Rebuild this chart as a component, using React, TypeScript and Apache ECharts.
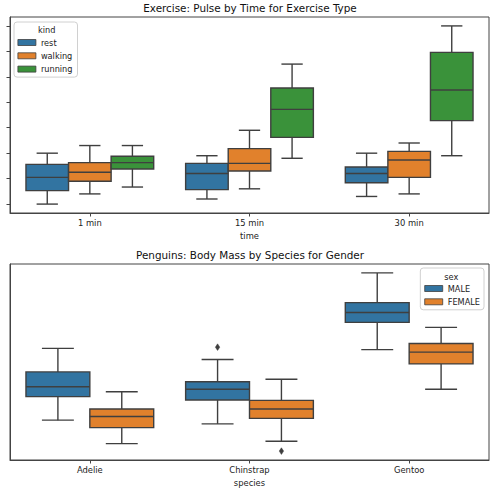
import React, { useEffect, useRef } from "react";
import * as echarts from "echarts";

// ---------- Data ----------
const exerciseTimes = ["1 min", "15 min", "30 min"];
const exerciseKinds = ["rest", "walking", "running"];
// [min, q1, median, q3, max] per time
const restPulse = [
  [80, 85.3, 90.5, 95.6, 100],
  [82, 85.7, 92, 96, 99],
  [83, 88.4, 92, 94.6, 100],
];
const walkingPulse = [
  [84, 89, 92.5, 96.3, 103],
  [86, 93, 96, 101.8, 109],
  [84, 90.5, 97.3, 100.7, 104],
];
const runningPulse = [
  [86.7, 93.8, 96.3, 98.8, 103],
  [98, 106.2, 117.2, 125.6, 135],
  [99, 112.8, 124.8, 139.6, 150],
];
const pulseTicks = [80, 90, 100, 110, 120, 130, 140, 150];

const penguinSpecies = ["Adelie", "Chinstrap", "Gentoo"];
const penguinSexes = ["MALE", "FEMALE"];
const maleMass = [
  [3325, 3800, 4000, 4300, 4775],
  [3250, 3731, 3950, 4100, 4550],
  [4750, 5300, 5500, 5700, 6300],
];
const femaleMass = [
  [2850, 3175, 3400, 3550, 3900],
  [2900, 3362, 3550, 3725, 4150],
  [3950, 4462, 4700, 4875, 5200],
];
// [species index, value]
const maleOutliers = [[1, 4800]];
const femaleOutliers = [[1, 2700]];

// ---------- Styles ----------
const FONT = "DejaVu Sans";
const EDGE = "#3f3f3f";
const SPINE = "#444";
const hueColors = ["#3274a1", "#e1812c", "#3a923a"];

function boxRenderer(idx: number, n: number) {
  return (params: any, api: any) => {
    const cat = api.value(0);
    const band = api.size([1, 0])[0];
    const w = (band * 0.8) / n;
    const cx = api.coord([cat, 0])[0] + (idx - (n - 1) / 2) * w;
    const y = (v: number) => api.coord([cat, v])[1];
    const yMin = y(api.value(1));
    const yQ1 = y(api.value(2));
    const yMed = y(api.value(3));
    const yQ3 = y(api.value(4));
    const yMax = y(api.value(5));
    const fill = api.visual("color");
    const ls = { stroke: EDGE, lineWidth: 1.4 };
    const capHalf = w / 4;
    return {
      type: "group",
      children: [
        { type: "line", shape: { x1: cx, y1: yQ3, x2: cx, y2: yMax }, style: ls },
        { type: "line", shape: { x1: cx, y1: yQ1, x2: cx, y2: yMin }, style: ls },
        { type: "line", shape: { x1: cx - capHalf, y1: yMax, x2: cx + capHalf, y2: yMax }, style: ls },
        { type: "line", shape: { x1: cx - capHalf, y1: yMin, x2: cx + capHalf, y2: yMin }, style: ls },
        {
          type: "rect",
          shape: { x: cx - w / 2, y: yQ3, width: w, height: yQ1 - yQ3 },
          style: { fill, stroke: EDGE, lineWidth: 1.4 },
        },
        { type: "line", shape: { x1: cx - w / 2, y1: yMed, x2: cx + w / 2, y2: yMed }, style: ls },
      ],
    };
  };
}

function outlierRenderer(idx: number, n: number) {
  return (params: any, api: any) => {
    const cat = api.value(0);
    const band = api.size([1, 0])[0];
    const w = (band * 0.8) / n;
    const pt = api.coord([cat, api.value(1)]);
    const cx = pt[0] + (idx - (n - 1) / 2) * w;
    const cy = pt[1];
    return {
      type: "polygon",
      shape: {
        points: [
          [cx, cy - 3.3],
          [cx + 2.2, cy],
          [cx, cy + 3.3],
          [cx - 2.2, cy],
        ],
      },
      style: { fill: EDGE, stroke: EDGE, lineWidth: 0.5 },
    };
  };
}

const toBoxData = (rows: number[][]) => rows.map((r, i) => [i, ...r]);

export default function App() {
  const ref = useRef<HTMLDivElement>(null);

  useEffect(() => {
    if (!ref.current) return;
    const chart = echarts.init(ref.current, undefined, { renderer: "svg" });

    const exerciseSeries = [restPulse, walkingPulse, runningPulse].map((rows, i) => ({
      type: "custom",
      name: exerciseKinds[i],
      xAxisIndex: 0,
      yAxisIndex: 0,
      itemStyle: { color: hueColors[i] },
      renderItem: boxRenderer(i, exerciseKinds.length),
      encode: { x: 0, y: [1, 2, 3, 4, 5] },
      data: toBoxData(rows),
      z: 3,
    }));

    const penguinSeries = [maleMass, femaleMass].map((rows, i) => ({
      type: "custom",
      name: penguinSexes[i],
      xAxisIndex: 1,
      yAxisIndex: 1,
      itemStyle: { color: hueColors[i] },
      renderItem: boxRenderer(i, penguinSexes.length),
      encode: { x: 0, y: [1, 2, 3, 4, 5] },
      data: toBoxData(rows),
      z: 3,
    }));

    const outlierSeries = [maleOutliers, femaleOutliers].map((pts, i) => ({
      type: "custom",
      name: penguinSexes[i] + " outliers",
      xAxisIndex: 1,
      yAxisIndex: 1,
      renderItem: outlierRenderer(i, penguinSexes.length),
      encode: { x: 0, y: 1 },
      data: pts,
      z: 3,
    }));

    const catAxis = (gridIndex: number, data: string[], name: string) => ({
      type: "category",
      gridIndex,
      data,
      name,
      nameLocation: "middle",
      nameGap: 19,
      nameTextStyle: { fontFamily: FONT, fontSize: 8.4, color: "#222" },
      axisLine: { show: true, lineStyle: { color: SPINE, width: 1 } },
      axisTick: { show: true, alignWithLabel: true, length: 3.5, lineStyle: { color: SPINE } },
      axisLabel: { fontFamily: FONT, fontSize: 8.4, color: "#222", margin: 6 },
      splitLine: { show: false },
    });

    const legendBase = {
      orient: "vertical",
      icon: "rect",
      itemWidth: 18,
      itemHeight: 6,
      itemGap: 1.3,
      itemTextGap: 6,
      backgroundColor: "#fff",
      borderColor: "#d0d0d0",
      borderWidth: 1,
      borderRadius: 3,
      itemStyle: { borderColor: EDGE, borderWidth: 0.8 },
      textStyle: { fontFamily: FONT, fontSize: 8.2, color: "#222", lineHeight: 12 },
      selectedMode: false,
    };

    chart.setOption({
      animation: false,
      backgroundColor: "#fff",
      title: [
        {
          text: "Exercise: Pulse by Time for Exercise Type",
          left: "center",
          top: 3,
          padding: 0,
          textStyle: { fontFamily: FONT, fontSize: 10.4, fontWeight: "normal", color: "#111" },
        },
        {
          text: "Penguins: Body Mass by Species for Gender",
          left: "center",
          top: 249.5,
          padding: 0,
          textStyle: { fontFamily: FONT, fontSize: 10.4, fontWeight: "normal", color: "#111" },
        },
      ],
      grid: [
        { left: 10, right: 11, top: 17, height: 196, show: true, borderColor: SPINE, borderWidth: 1 },
        { left: 10, right: 11, top: 264, height: 196, show: true, borderColor: SPINE, borderWidth: 1 },
      ],
      xAxis: [catAxis(0, exerciseTimes, "time"), catAxis(1, penguinSpecies, "species")],
      yAxis: [
        {
          type: "value",
          gridIndex: 0,
          min: 76.5,
          max: 153.5,
          axisLine: { show: true, lineStyle: { color: SPINE } },
          axisTick: { show: true, length: 3.5, lineStyle: { color: SPINE }, customValues: pulseTicks },
          axisLabel: { show: false, customValues: pulseTicks },
          splitLine: { show: false },
        },
        {
          type: "value",
          gridIndex: 1,
          min: 2520,
          max: 6480,
          axisLine: { show: true, lineStyle: { color: SPINE } },
          axisTick: { show: false },
          axisLabel: { show: false },
          splitLine: { show: false },
        },
      ],
      legend: [
        {
          ...legendBase,
          data: exerciseKinds,
          left: 14,
          top: 22,
          padding: [14.5, 5, 2, 3.5],
        },
        {
          ...legendBase,
          data: penguinSexes,
          right: 16,
          top: 268,
          padding: [14.5, 4, 2, 4],
        },
      ],
      graphic: [
        {
          type: "text",
          x: 46.8,
          y: 30,
          z: 100,
          style: {
            text: "kind",
            fontFamily: FONT,
            fontSize: 8.2,
            fill: "#222",
            align: "center",
            verticalAlign: "middle",
          },
        },
        {
          type: "text",
          x: 451.3,
          y: 276.7,
          z: 100,
          style: {
            text: "sex",
            fontFamily: FONT,
            fontSize: 8.2,
            fill: "#222",
            align: "center",
            verticalAlign: "middle",
          },
        },
      ],
      series: [...exerciseSeries, ...penguinSeries, ...outlierSeries],
    });

    return () => chart.dispose();
  }, []);

  return <div ref={ref} style={{ position: "absolute", left: 0, top: 0, width: 500, height: 492 }} />;
}
